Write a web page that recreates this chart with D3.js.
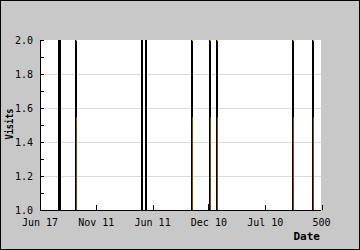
<!DOCTYPE html>
<html>
<head>
<meta charset="utf-8">
<script src="https://cdn.jsdelivr.net/npm/d3@7"></script>
<style>
  body { margin: 0; }
  svg { display: block; font-family: "DejaVu Sans Mono", monospace; }
</style>
</head>
<body>
<div id="chart"></div>
<script>
var W = 360, H = 250,
    margin = {top: 40, right: 39, bottom: 40, left: 40};

// bar spans in day index units, and their visit counts
var barStart = [32, 62, 180, 187, 268, 299, 301, 313, 448, 484],
    barEnd   = [37, 63, 182, 189, 270, 300, 303, 317, 450, 486],
    barValue = [2, 2, 2, 2, 2, 1.035, 2, 2, 2, 2],
    barOrange = [false, true, false, false, true, false, true, true, true, true];

var xTicks = [0, 100, 200, 300, 400, 500],
    xTickLabels = ['Jun 17', 'Nov 11', 'Jun 11', 'Dec 10', 'Jul 10', '500'],
    yTicks = [1.0, 1.2, 1.4, 1.6, 1.8, 2.0];

var bars = barStart.map(function(d, i) {
  return {x0: d, x1: barEnd[i], v: barValue[i], orange: barOrange[i]};
});

var svg = d3.select('#chart').append('svg')
    .attr('width', W)
    .attr('height', H);

svg.append('rect')
    .attr('x', 0.5).attr('y', 0.5)
    .attr('width', W - 1).attr('height', H - 1)
    .attr('fill', '#c8c8c8')
    .attr('stroke', '#000');

var pw = W - margin.left - margin.right,
    ph = H - margin.top - margin.bottom;

var x = d3.scaleLinear().domain([0, 500]).range([0, pw + 0.5]),
    y = d3.scaleLinear().domain([1, 2]).range([ph, 0]);

function bx(d) { return Math.round(x(d.x0)); }
function bw(d) { return Math.max(2, Math.round(x(d.x1)) - bx(d)); }
function by(d) { return Math.round(y(d.v)); }

var g = svg.append('g')
    .attr('transform', 'translate(' + margin.left + ',' + margin.top + ')');

g.append('rect')
    .attr('width', pw).attr('height', ph)
    .attr('fill', '#fff');

// grid
g.selectAll('.grid').data(yTicks.slice(1, -1)).enter().append('line')
    .attr('x1', 0).attr('x2', pw)
    .attr('y1', function(d) { return Math.round(y(d)) + 0.5; })
    .attr('y2', function(d) { return Math.round(y(d)) + 0.5; })
    .attr('stroke', '#dcdcdc');

// bars
g.selectAll('.bar').data(bars).enter().append('rect')
    .attr('x', bx)
    .attr('width', bw)
    .attr('y', by)
    .attr('height', function(d) { return ph - by(d); })
    .attr('fill', '#000')
    .attr('shape-rendering', 'crispEdges');

var hi = bars.filter(function(d) { return d.orange; });

g.selectAll('.barhi').data(hi).enter().append('rect')
    .attr('x', function(d) { return bx(d) + bw(d) - 1; })
    .attr('width', 1)
    .attr('y', function(d) { return by(d) + ph * 0.45; })
    .attr('height', function(d) { return ph * 0.55 - by(d); })
    .attr('fill', '#ffa500')
    .attr('fill-opacity', 0.45)
    .attr('shape-rendering', 'crispEdges');

g.selectAll('.bartop').data(hi).enter().append('rect')
    .attr('x', function(d) { return bx(d) + bw(d) - 1; })
    .attr('width', 1)
    .attr('y', by)
    .attr('height', 1)
    .attr('fill', '#ffa500');

// y axis
var yAxis = d3.axisRight(y)
    .tickValues(d3.range(1, 2.01, 0.1))
    .tickSize(4)
    .tickFormat('');

g.append('g').call(yAxis)
  .call(function(s) {
    s.select('.domain').remove();
    s.selectAll('line').attr('stroke', '#000').attr('shape-rendering', 'crispEdges');
  });

g.append('line')
    .attr('x1', 0.5).attr('x2', 0.5)
    .attr('y1', 0).attr('y2', ph)
    .attr('stroke', '#000');

g.selectAll('.ylab').data(yTicks).enter().append('text')
    .attr('x', -7)
    .attr('y', function(d) { return y(d); })
    .attr('dy', '0.35em')
    .attr('text-anchor', 'end')
    .attr('font-size', 10)
    .text(function(d) { return d3.format('.1f')(d); });

// x axis
var xAxis = d3.axisTop(x)
    .tickValues(xTicks)
    .tickSize(5)
    .tickFormat('');

g.append('g')
    .attr('transform', 'translate(0,' + ph + ')')
    .call(xAxis)
  .call(function(s) {
    s.select('.domain').remove();
    s.selectAll('line').attr('stroke', '#000').attr('shape-rendering', 'crispEdges');
  });

g.append('line')
    .attr('x1', 0).attr('x2', pw)
    .attr('y1', ph + 0.5).attr('y2', ph + 0.5)
    .attr('stroke', '#000');

g.selectAll('.xlab').data(xTicks).enter().append('text')
    .attr('x', function(d) { return x(d); })
    .attr('y', ph + 16)
    .attr('text-anchor', 'middle')
    .attr('font-size', 10)
    .text(function(d, i) { return xTickLabels[i]; });

// axis titles
g.append('text')
    .attr('x', pw - 1)
    .attr('y', ph + 30)
    .attr('text-anchor', 'end')
    .attr('font-size', 11)
    .attr('font-weight', 'bold')
    .text('Date');

g.append('text')
    .attr('transform', 'translate(' + (-27) + ',' + (ph / 2 - 1) + ') rotate(-90)')
    .attr('text-anchor', 'middle')
    .attr('font-size', 11)
    .attr('font-weight', 'bold')
    .attr('textLength', 31)
    .attr('lengthAdjust', 'spacingAndGlyphs')
    .text('Visits');
</script>
</body>
</html>
